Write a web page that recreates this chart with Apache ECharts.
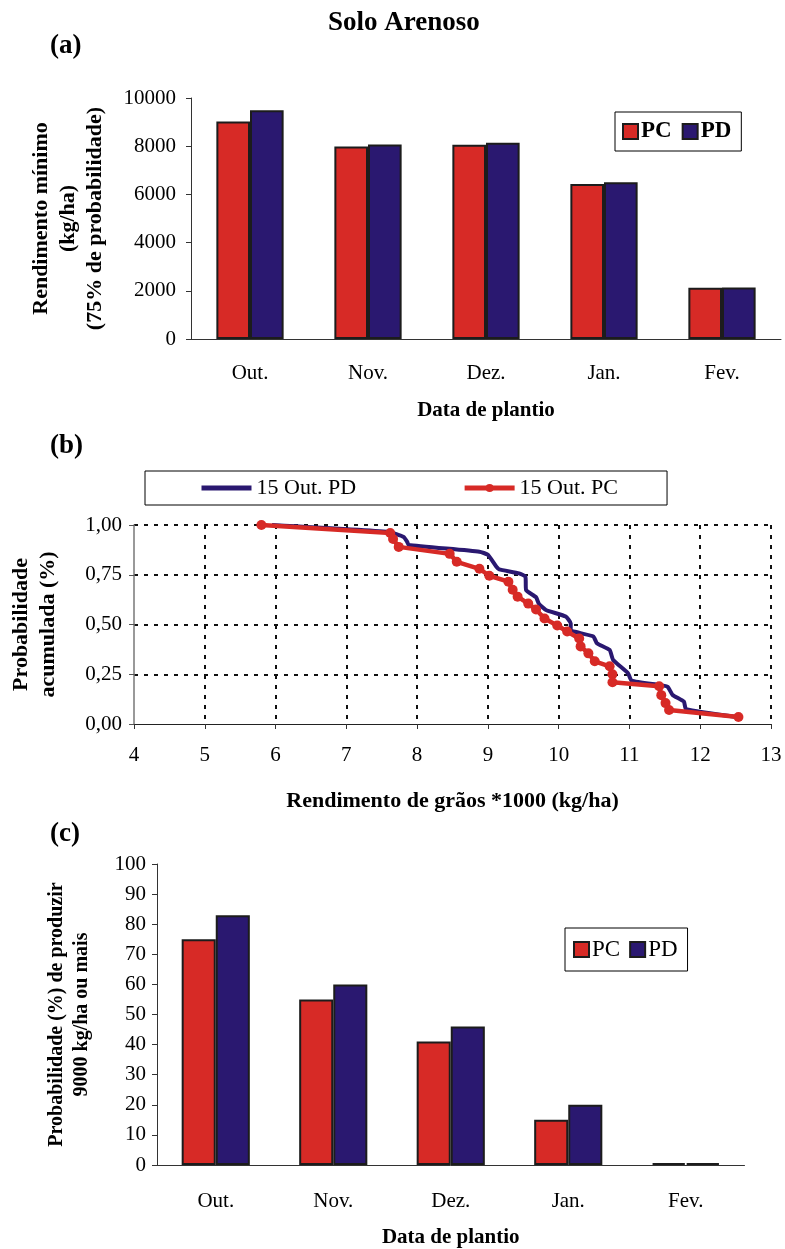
<!DOCTYPE html>
<html><head><meta charset="utf-8">
<script src="https://cdn.jsdelivr.net/npm/echarts@6/dist/echarts.min.js"></script>
<style>html,body{margin:0;padding:0;background:#fff}#c{width:785px;height:1249px}</style>
</head><body><div id="c"></div>
<script>
// ---- data ----
const months = ['Out.', 'Nov.', 'Dez.', 'Jan.', 'Fev.'];
const minYieldPC = [9030, 7990, 8060, 6430, 2130];
const minYieldPD = [9490, 8070, 8140, 6500, 2140];
const probPC = [75, 55, 41, 15, 0.6];
const probPD = [83, 60, 46, 20, 0.6];
const cdfPC_x = [5.80, 7.62, 7.66, 7.74, 8.46, 8.56, 8.88, 9.02, 9.29, 9.35, 9.42, 9.57, 9.68, 9.80, 9.98, 10.12, 10.29, 10.31, 10.42, 10.51, 10.72, 10.76, 10.76, 11.42, 11.45, 11.51, 11.56, 12.54];
const cdfPC_y = [1.00, 0.96, 0.93, 0.89, 0.855, 0.815, 0.78, 0.745, 0.715, 0.675, 0.64, 0.605, 0.575, 0.53, 0.495, 0.465, 0.43, 0.39, 0.355, 0.315, 0.29, 0.25, 0.21, 0.19, 0.145, 0.105, 0.07, 0.035];
const cdfPD_x = [5.95, 7.60, 7.81, 7.86, 7.88, 8.88, 9.00, 9.12, 9.16, 9.44, 9.53, 9.54, 9.68, 9.72, 9.82, 10.10, 10.17, 10.17, 10.49, 10.54, 10.72, 10.77, 10.98, 11.03, 11.42, 11.54, 11.61, 11.77, 11.80, 12.54];
const cdfPD_y = [1.00, 0.965, 0.94, 0.915, 0.90, 0.866, 0.85, 0.79, 0.777, 0.757, 0.74, 0.673, 0.637, 0.605, 0.573, 0.54, 0.506, 0.472, 0.44, 0.406, 0.372, 0.322, 0.255, 0.218, 0.196, 0.187, 0.146, 0.112, 0.074, 0.034];

const FONT = "'Liberation Serif', 'Times New Roman', serif";
const RED = '#d72a26', BLUE = '#2a1870', EDGE = '#1c1c1c';
const txt = (size, bold) => ({ fontFamily: FONT, fontSize: size, fontWeight: bold ? 'bold' : 'normal', color: '#000' });

const chart = echarts.init(document.getElementById('c'), null, { renderer: 'canvas' });
const barStyle = c => ({ color: c, borderColor: EDGE, borderWidth: 2 });
const zip = (xs, ys) => xs.map((x, i) => [x, ys[i]]);

const option = {
  backgroundColor: '#fff',
  animation: false,
  graphic: [
    { type: 'text', left: 328, top: 10, style: { text: 'Solo Arenoso', font: `bold 27px ${FONT}`, fill: '#000' } },
    { type: 'text', left: 50, top: 33, style: { text: '(a)', font: `bold 27px ${FONT}`, fill: '#000' } },
    { type: 'text', left: 50, top: 433, style: { text: '(b)', font: `bold 27px ${FONT}`, fill: '#000' } },
    { type: 'text', left: 50, top: 821, style: { text: '(c)', font: `bold 27px ${FONT}`, fill: '#000' } }
  ],
  grid: [
    { left: 191, top: 98, width: 590, height: 241 },
    { left: 127.5, top: 525, width: 643.5, height: 199 },
    { left: 157, top: 864, width: 587.5, height: 301 }
  ],
  legend: [
    { data: ['PC', 'PD'], left: 615, top: 112, orient: 'horizontal', icon: 'rect', itemWidth: 15, itemHeight: 15, itemGap: 10,
      padding: [8, 10, 8, 7], borderColor: '#000', borderWidth: 1, textStyle: Object.assign(txt(23, true), { padding: [0, 0, 0, -2] }), selectedMode: false },
    { data: [{ name: '15 Out. PD', itemStyle: { opacity: 0, color: 'rgba(0,0,0,0)', borderWidth: 0 }, lineStyle: { width: 5 } },
             { name: '15 Out. PC', lineStyle: { width: 5 } }],
      left: 145, top: 471, itemWidth: 50, itemHeight: 10, itemGap: 106,
      padding: [6, 49, 6, 54], borderColor: '#000', borderWidth: 1, textStyle: txt(22, false), selectedMode: false },
    { data: ['PC', 'PD'], left: 565, top: 928, icon: 'rect', itemWidth: 15, itemHeight: 15, itemGap: 9,
      padding: [10, 10, 10, 8], borderColor: '#000', borderWidth: 1, textStyle: Object.assign(txt(23, false), { padding: [0, 0, 0, -2] }), selectedMode: false }
  ],
  xAxis: [
    { type: 'category', gridIndex: 0, data: months, boundaryGap: true,
      axisLine: { lineStyle: { color: '#333', width: 1 } }, axisTick: { length: 6, lineStyle: { color: '#333' } },
      axisLabel: Object.assign(txt(21), { margin: 24 }),
      name: 'Data de plantio', nameLocation: 'middle', nameGap: 61, nameTextStyle: txt(21, true) },
    { type: 'value', gridIndex: 1, min: 4, max: 13, interval: 1,
      axisLine: { lineStyle: { color: '#222', width: 1.2 } }, axisTick: { length: 5, lineStyle: { color: '#333' } },
      axisLabel: Object.assign(txt(21), { margin: 21 }),
      splitLine: { show: true, showMinLine: false, lineStyle: { color: '#111', width: 2, type: [4, 6] } },
      name: 'Rendimento de grãos *1000 (kg/ha)', nameLocation: 'middle', nameGap: 66, nameTextStyle: txt(22, true) },
    { type: 'category', gridIndex: 2, data: months, boundaryGap: true,
      axisLine: { lineStyle: { color: '#333', width: 1 } }, axisTick: { length: 6, lineStyle: { color: '#333' } },
      axisLabel: Object.assign(txt(21), { margin: 26 }),
      name: 'Data de plantio', nameLocation: 'middle', nameGap: 62, nameTextStyle: txt(21, true) }
  ],
  yAxis: [
    { type: 'value', gridIndex: 0, min: 0, max: 10000, interval: 2000,
      axisLine: { show: true, lineStyle: { color: '#333', width: 1 } }, axisTick: { show: true, length: 5, lineStyle: { color: '#333' } },
      splitLine: { show: false }, axisLabel: Object.assign(txt(21), { margin: 15, formatter: v => String(v) }),
      name: 'Rendimento mínimo\n(kg/ha)\n(75% de probabilidade)', nameLocation: 'middle', nameRotate: 90, nameGap: 82,
      nameTextStyle: Object.assign(txt(22, true), { lineHeight: 27 }) },
    { type: 'value', gridIndex: 1, min: 0, max: 1, interval: 0.25,
      axisLine: { show: true, lineStyle: { color: '#777', width: 1.5 } }, axisTick: { show: true, length: 5, lineStyle: { color: '#555' } },
      splitLine: { show: true, showMinLine: false, lineStyle: { color: '#111', width: 2, type: [4, 6] } },
      axisLabel: Object.assign(txt(21), { margin: 12, formatter: v => v.toFixed(2).replace('.', ',') }),
      name: 'Probabilidade\nacumulada (%)', nameLocation: 'middle', nameRotate: 90, nameGap: 72,
      nameTextStyle: Object.assign(txt(22, true), { lineHeight: 27 }) },
    { type: 'value', gridIndex: 2, min: 0, max: 100, interval: 10,
      axisLine: { show: true, lineStyle: { color: '#333', width: 1 } }, axisTick: { show: true, length: 5, lineStyle: { color: '#333' } },
      splitLine: { show: false }, axisLabel: Object.assign(txt(21), { margin: 11 }),
      name: 'Probabilidade (%) de produzir\n9000 kg/ha ou mais', nameLocation: 'middle', nameRotate: 90, nameGap: 63,
      nameTextStyle: Object.assign(txt(20, true), { lineHeight: 25 }) }
  ],
  series: [
    { name: 'PC', type: 'bar', xAxisIndex: 0, yAxisIndex: 0, data: minYieldPC, itemStyle: barStyle(RED), barGap: '0%', barCategoryGap: '43%' },
    { name: 'PD', type: 'bar', xAxisIndex: 0, yAxisIndex: 0, data: minYieldPD, itemStyle: barStyle(BLUE), barGap: '0%', barCategoryGap: '43%' },
    { name: '15 Out. PD', type: 'line', xAxisIndex: 1, yAxisIndex: 1, data: zip(cdfPD_x, cdfPD_y), symbol: 'none',
      smooth: 0.15, lineStyle: { color: BLUE, width: 4 }, itemStyle: { color: BLUE }, z: 3 },
    { name: '15 Out. PC', type: 'line', xAxisIndex: 1, yAxisIndex: 1, data: zip(cdfPC_x, cdfPC_y), symbol: 'circle', symbolSize: 10,
      lineStyle: { color: RED, width: 4.5 }, itemStyle: { color: RED }, z: 4 },
    { name: 'PC', type: 'bar', xAxisIndex: 2, yAxisIndex: 2, data: probPC, itemStyle: barStyle(RED), barGap: '0%', barCategoryGap: '42%' },
    { name: 'PD', type: 'bar', xAxisIndex: 2, yAxisIndex: 2, data: probPD, itemStyle: barStyle(BLUE), barGap: '0%', barCategoryGap: '42%' }
  ]
};
chart.setOption(option);
</script>
</body></html>
